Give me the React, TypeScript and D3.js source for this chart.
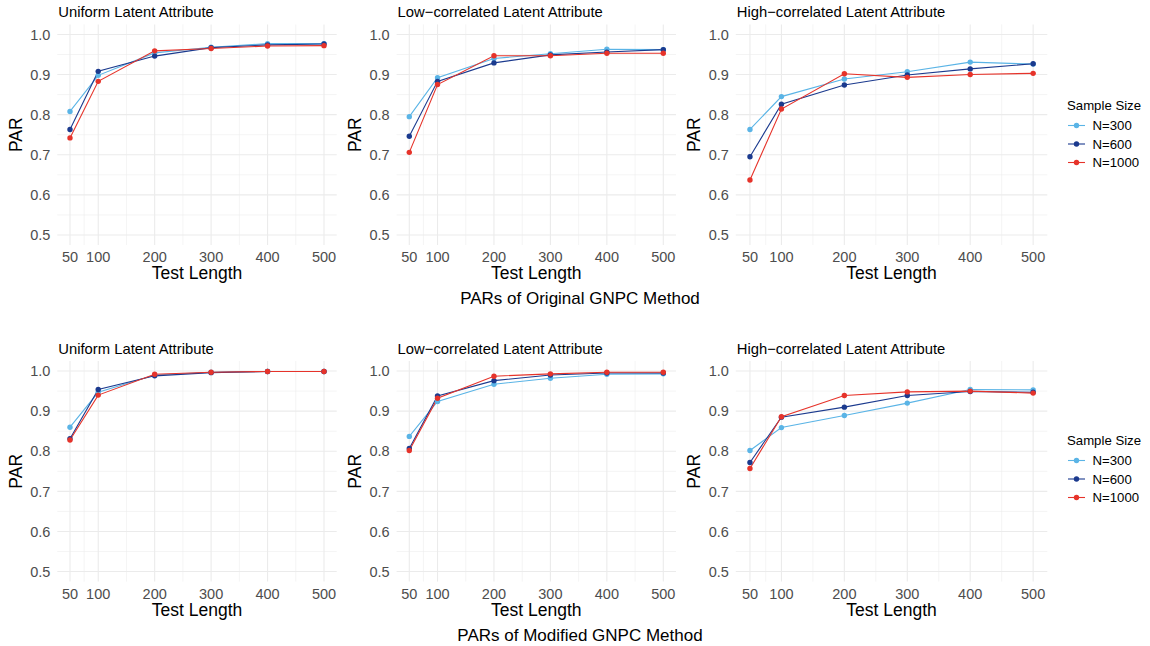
import React from "react";
import * as d3 from "d3";

const testLengths = [50, 100, 200, 300, 400, 500];
const sampleSizes = ["N=300", "N=600", "N=1000"];
const seriesColors = ["#5ab4e6", "#1b3a8e", "#e6332a"];
const xMajor = [50, 100, 200, 300, 400, 500];
const xMinor = [75, 150, 250, 350, 450];
const yMajor = [0.5, 0.6, 0.7, 0.8, 0.9, 1.0];
const yMinor = [0.55, 0.65, 0.75, 0.85, 0.95];
const panelTitles = ["Uniform Latent Attribute", "Low\u2212correlated Latent Attribute", "High\u2212correlated Latent Attribute"];
const rowCaptions = ["PARs of Original GNPC Method", "PARs of Modified GNPC Method"];

// Original GNPC
const origUniform = [
  [0.808, 0.898, 0.954, 0.968, 0.977, 0.977],
  [0.763, 0.908, 0.946, 0.967, 0.974, 0.976],
  [0.742, 0.883, 0.959, 0.965, 0.971, 0.972],
];
const origLow = [
  [0.795, 0.892, 0.940, 0.952, 0.963, 0.962],
  [0.746, 0.883, 0.929, 0.949, 0.956, 0.962],
  [0.706, 0.875, 0.947, 0.947, 0.953, 0.953],
];
const origHigh = [
  [0.763, 0.845, 0.889, 0.907, 0.931, 0.926],
  [0.695, 0.826, 0.874, 0.899, 0.914, 0.927],
  [0.637, 0.814, 0.902, 0.893, 0.900, 0.903],
];
// Modified GNPC
const modUniform = [
  [0.860, 0.947, 0.990, 0.997, 0.999, 0.999],
  [0.831, 0.954, 0.988, 0.996, 0.999, 0.999],
  [0.828, 0.940, 0.992, 0.997, 0.999, 0.999],
];
const modLow = [
  [0.837, 0.924, 0.967, 0.982, 0.992, 0.993],
  [0.807, 0.938, 0.976, 0.990, 0.995, 0.995],
  [0.802, 0.932, 0.987, 0.993, 0.997, 0.997],
];
const modHigh = [
  [0.802, 0.859, 0.889, 0.920, 0.954, 0.953],
  [0.772, 0.885, 0.910, 0.939, 0.949, 0.947],
  [0.757, 0.886, 0.939, 0.948, 0.950, 0.945],
];

const rowsData = [
  [origUniform, origLow, origHigh],
  [modUniform, modLow, modHigh],
];

const FONT = "'Liberation Sans', Arial, Helvetica, sans-serif";
const colAreas = [
  [57.3, 336.7],
  [396.6, 676],
  [735.8, 1047.3],
];
const rowAreas = [
  [24.4, 245],
  [361, 581.6],
];
const rowLegendY = [105, 440];

function Panel({ data, col, row }: { data: number[][]; col: number; row: number }) {
  const [x0, x1] = colAreas[col];
  const [y0, y1] = rowAreas[row];
  const x = d3.scaleLinear().domain([27.5, 522.5]).range([x0, x1]);
  const y = d3.scaleLinear().domain([0.475, 1.025]).range([y1, y0]);
  const line = d3
    .line<number>()
    .x((_, i) => x(testLengths[i]))
    .y((d) => y(d));
  const cx = (x0 + x1) / 2;
  return (
    <g>
      {xMinor.map((v) => (
        <line key={"xm" + v} x1={x(v)} x2={x(v)} y1={y0} y2={y1} stroke="#ebebeb" strokeWidth={0.55} />
      ))}
      {yMinor.map((v) => (
        <line key={"ym" + v} x1={x0} x2={x1} y1={y(v)} y2={y(v)} stroke="#ebebeb" strokeWidth={0.55} />
      ))}
      {xMajor.map((v) => (
        <line key={"xM" + v} x1={x(v)} x2={x(v)} y1={y0} y2={y1} stroke="#ebebeb" strokeWidth={1.1} />
      ))}
      {yMajor.map((v) => (
        <line key={"yM" + v} x1={x0} x2={x1} y1={y(v)} y2={y(v)} stroke="#ebebeb" strokeWidth={1.1} />
      ))}
      {yMajor.map((v) => (
        <text key={"yt" + v} x={x0 - 7} y={y(v)} dy="0.36em" textAnchor="end" fontSize={14.5} fill="#4d4d4d" fontFamily={FONT}>
          {v.toFixed(1)}
        </text>
      ))}
      {xMajor.map((v) => (
        <text key={"xt" + v} x={x(v)} y={y1 + 11.7} dy="0.36em" textAnchor="middle" fontSize={14.5} fill="#4d4d4d" fontFamily={FONT}>
          {v}
        </text>
      ))}
      <text x={cx} y={y1 + 28} dy="0.36em" textAnchor="middle" fontSize={17.5} fill="#000" fontFamily={FONT}>
        Test Length
      </text>
      <text
        transform={`translate(${x0 - 42},${(y0 + y1) / 2}) rotate(-90)`}
        dy="0.36em"
        textAnchor="middle"
        fontSize={17.5}
        fill="#000"
        fontFamily={FONT}
      >
        PAR
      </text>
      <text x={x0 + 1} y={y0 - 12.5} dy="0.36em" fontSize={14.8} fill="#000" fontFamily={FONT}>
        {panelTitles[col]}
      </text>
      {data.map((s, i) => (
        <path key={"l" + i} d={line(s) || ""} fill="none" stroke={seriesColors[i]} strokeWidth={1.1} />
      ))}
      {data.map((s, i) =>
        s.map((v, j) => <circle key={"p" + i + "-" + j} cx={x(testLengths[j])} cy={y(v)} r={2.7} fill={seriesColors[i]} />)
      )}
    </g>
  );
}

function Legend({ top }: { top: number }) {
  const lx = 1067;
  return (
    <g>
      <text x={lx} y={top} dy="0.36em" fontSize={13.2} fill="#000" fontFamily={FONT}>
        Sample Size
      </text>
      {sampleSizes.map((s, i) => {
        const yy = top + 20.5 + i * 18.5;
        return (
          <g key={s}>
            <line x1={lx + 1} x2={lx + 18} y1={yy} y2={yy} stroke={seriesColors[i]} strokeWidth={1.1} />
            <circle cx={lx + 9.5} cy={yy} r={2.7} fill={seriesColors[i]} />
            <text x={lx + 25.5} y={yy} dy="0.36em" fontSize={13.2} fill="#000" fontFamily={FONT}>
              {s}
            </text>
          </g>
        );
      })}
    </g>
  );
}

export default function App() {
  return (
    <svg
      width={1150}
      height={646}
      style={{ position: "absolute", left: 0, top: 0, background: "#fff" }}
      fontFamily={FONT}
    >
      <rect x={0} y={0} width={1150} height={646} fill="#fff" />
      {rowsData.map((row, r) => (
        <g key={"r" + r}>
          {row.map((d, c) => (
            <Panel key={c} data={d} col={c} row={r} />
          ))}
          <Legend top={rowLegendY[r]} />
          <text x={580} y={rowAreas[r][1] + 53} dy="0.36em" textAnchor="middle" fontSize={17} fill="#000" fontFamily={FONT}>
            {rowCaptions[r]}
          </text>
        </g>
      ))}
    </svg>
  );
}
